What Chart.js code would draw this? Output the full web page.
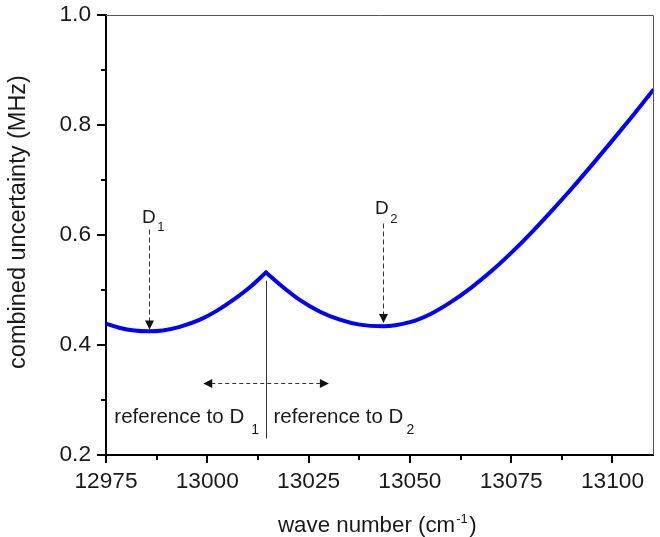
<!DOCTYPE html>
<html>
<head>
<meta charset="utf-8">
<script src="https://cdn.jsdelivr.net/npm/chart.js@4"></script>
<style>
  html, body { margin: 0; padding: 0; background: #fff; }
  canvas { display: block; }
</style>
</head>
<body>
<canvas id="chart" width="660" height="537"></canvas>
<script>
// Combined uncertainty vs. wave number; the reference switches from D1 to D2 at the crossover.
const waveLeft  = [12975, 12978.5, 12982, 12985.5, 12989, 12993.2, 12998.2, 13002.3, 13006.4, 13010.5, 13014.5];
const uncLeft   = [0.439, 0.431, 0.4265, 0.425, 0.4265, 0.433, 0.446, 0.462, 0.482, 0.505, 0.532];
const waveRight = [13014.5, 13017.9, 13022.8, 13027.7, 13032.7, 13037.6, 13043.3, 13050, 13055, 13060, 13065, 13070, 13075, 13080, 13085, 13090, 13095, 13100, 13105, 13110];
const uncRight  = [0.532, 0.510, 0.482, 0.461, 0.446, 0.437, 0.434, 0.4415, 0.456, 0.4775, 0.5035, 0.5335, 0.5675, 0.6045, 0.644, 0.685, 0.728, 0.772, 0.817, 0.863];

const xTickLabels = [12975, 13000, 13025, 13050, 13075, 13100];
const yTickLabels = [0.2, 0.4, 0.6, 0.8, 1.0];

const waveD1 = 12985.5;     // minimum using D1 as reference
const waveD2 = 13043.3;     // minimum using D2 as reference
const waveCross = 13014.5;  // crossover between the two references

const FONT = '"Liberation Sans", Arial, Helvetica, sans-serif';
const toPoints = (xs, ys) => xs.map((x, i) => ({ x, y: ys[i] }));

function midpoints(arr) {
  const out = [];
  for (let i = 0; i < arr.length - 1; i++) out.push((arr[i] + arr[i + 1]) / 2);
  return out;
}

function arrowHead(ctx, tx, ty, dx, dy) {
  // filled triangle with its tip at (tx, ty), pointing along (dx, dy)
  const len = 9, half = 4.5;
  const bx = tx - dx * len, by = ty - dy * len;
  ctx.beginPath();
  ctx.moveTo(tx, ty);
  ctx.lineTo(bx - dy * half, by + dx * half);
  ctx.lineTo(bx + dy * half, by - dx * half);
  ctx.closePath();
  ctx.fill();
}

function textWithSub(ctx, main, sub, x, y, size, subSize, gap, drop) {
  ctx.textAlign = 'left';
  ctx.textBaseline = 'alphabetic';
  ctx.font = size + 'px ' + FONT;
  ctx.fillText(main, x, y);
  const w = ctx.measureText(main).width;
  ctx.font = subSize + 'px ' + FONT;
  ctx.fillText(sub, x + w + gap, y + drop);
  return w + gap + ctx.measureText(sub).width;
}

function widthWithSub(ctx, main, sub, size, subSize, gap) {
  ctx.font = size + 'px ' + FONT;
  const w = ctx.measureText(main).width;
  ctx.font = subSize + 'px ' + FONT;
  return w + gap + ctx.measureText(sub).width;
}

const decorations = {
  id: 'decorations',
  beforeDraw(chart) {
    const ctx = chart.ctx;
    ctx.save();
    ctx.fillStyle = '#fff';
    ctx.fillRect(0, 0, chart.width, chart.height);
    ctx.restore();
  },
  afterDraw(chart) {
    const ctx = chart.ctx;
    const { left, right, top, bottom } = chart.chartArea;
    const xs = chart.scales.x, ys = chart.scales.y;
    ctx.save();

    // thin frame on top and right
    ctx.strokeStyle = '#555';
    ctx.lineWidth = 1;
    ctx.beginPath();
    ctx.moveTo(left, top + 0.5);
    ctx.lineTo(right + 0.5, top + 0.5);
    ctx.lineTo(right + 0.5, bottom);
    ctx.stroke();

    // outward tick marks, major and minor
    ctx.strokeStyle = '#000';
    ctx.lineWidth = 2;
    ctx.beginPath();
    xTickLabels.forEach(v => { const p = Math.round(xs.getPixelForValue(v)); ctx.moveTo(p, bottom); ctx.lineTo(p, bottom + 8); });
    midpoints(xTickLabels).concat([xTickLabels[xTickLabels.length - 1] + 12.5]).forEach(v => {
      if (v > xs.max) return;
      const p = Math.round(xs.getPixelForValue(v)); ctx.moveTo(p, bottom); ctx.lineTo(p, bottom + 5);
    });
    yTickLabels.forEach(v => { const p = Math.round(ys.getPixelForValue(v)); ctx.moveTo(left, p); ctx.lineTo(left - 9, p); });
    midpoints(yTickLabels).forEach(v => { const p = Math.round(ys.getPixelForValue(v)); ctx.moveTo(left, p); ctx.lineTo(left - 5, p); });
    ctx.stroke();

    // annotation arrows
    ctx.strokeStyle = '#333';
    ctx.fillStyle = '#111';
    ctx.lineWidth = 1;

    const d1x = Math.round(xs.getPixelForValue(waveD1)) + 0.5;
    const d2x = Math.round(xs.getPixelForValue(waveD2)) + 0.5;
    const d1Top = ys.getPixelForValue(0.61), d1Tip = ys.getPixelForValue(0.428);
    const d2Top = ys.getPixelForValue(0.621), d2Tip = ys.getPixelForValue(0.440);
    ctx.setLineDash([5, 3]);
    ctx.beginPath();
    ctx.moveTo(d1x, d1Top); ctx.lineTo(d1x, d1Tip - 8);
    ctx.moveTo(d2x, d2Top); ctx.lineTo(d2x, d2Tip - 8);
    ctx.stroke();
    const hy = Math.round(ys.getPixelForValue(0.331)) + 0.5;
    const hl = xs.getPixelForValue(12999), hr = xs.getPixelForValue(13030);
    ctx.setLineDash([4, 3]);
    ctx.beginPath();
    ctx.moveTo(hl + 8, hy); ctx.lineTo(hr - 8, hy);
    ctx.stroke();
    ctx.setLineDash([]);
    arrowHead(ctx, d1x, d1Tip, 0, 1);
    arrowHead(ctx, d2x, d2Tip, 0, 1);
    arrowHead(ctx, hl, hy, -1, 0);
    arrowHead(ctx, hr, hy, 1, 0);

    // crossover line
    const cx = Math.round(xs.getPixelForValue(waveCross)) + 0.5;
    ctx.beginPath();
    ctx.moveTo(cx, ys.getPixelForValue(0.517));
    ctx.lineTo(cx, ys.getPixelForValue(0.23));
    ctx.stroke();

    // labels
    ctx.fillStyle = '#1a1a1a';
    textWithSub(ctx, 'D', '1', d1x - 7.5, ys.getPixelForValue(0.621), 19, 13, 1.5, 8);
    textWithSub(ctx, 'D', '2', d2x - 8.5, ys.getPixelForValue(0.638), 19, 13, 1.5, 8.5);
    const refY = ys.getPixelForValue(0.258);
    const leftW = widthWithSub(ctx, 'reference to D', '1', 20.5, 14, 7);
    textWithSub(ctx, 'reference to D', '1', cx - 7.5 - leftW, refY, 20.5, 14, 7, 11);
    textWithSub(ctx, 'reference to D', '2', cx + 7, refY, 20.5, 14, 3, 11);

    // axis titles
    let tx = 278;
    ctx.textAlign = 'left';
    ctx.textBaseline = 'alphabetic';
    ctx.font = '22.3px ' + FONT;
    ctx.fillText('wave number (cm', tx, 531.5);
    tx += ctx.measureText('wave number (cm').width + 1;
    ctx.font = '13px ' + FONT;
    ctx.fillText('-1', tx, 523);
    tx += ctx.measureText('-1').width + 1.5;
    ctx.font = '22.3px ' + FONT;
    ctx.fillText(')', tx, 531.5);

    ctx.translate(24.5, 222);
    ctx.rotate(-Math.PI / 2);
    ctx.textAlign = 'center';
    ctx.font = '23.5px ' + FONT;
    ctx.fillText('combined uncertainty (MHz)', 0, 0);
    ctx.restore();
  }
};

const lineStyle = {
  borderColor: '#0000ff',
  borderWidth: 4,
  pointRadius: 0,
  fill: false,
  showLine: true,
  cubicInterpolationMode: 'monotone',
  borderCapStyle: 'round',
  borderJoinStyle: 'round'
};

new Chart(document.getElementById('chart'), {
  type: 'scatter',
  data: {
    datasets: [
      Object.assign({ label: 'reference to D1', data: toPoints(waveLeft, uncLeft) }, lineStyle),
      Object.assign({ label: 'reference to D2', data: toPoints(waveRight, uncRight) }, lineStyle)
    ]
  },
  options: {
    responsive: false,
    animation: false,
    devicePixelRatio: 1,
    layout: { padding: { top: 15, right: 7, left: 0, bottom: 0 } },
    plugins: { legend: { display: false }, tooltip: { enabled: false } },
    scales: {
      x: {
        type: 'linear',
        min: 12975,
        max: 13110,
        afterBuildTicks: s => { s.ticks = xTickLabels.map(v => ({ value: v })); },
        afterFit: s => { s.height = 82; s.paddingLeft = 0; s.paddingRight = 0; },
        grid: { display: false },
        border: { display: true, color: '#000', width: 2 },
        ticks: {
          autoSkip: false, maxRotation: 0, padding: 5,
          color: '#1a1a1a',
          font: { family: FONT, size: 22.7 },
          callback: v => String(v)
        }
      },
      y: {
        type: 'linear',
        min: 0.2,
        max: 1.0,
        afterBuildTicks: s => { s.ticks = yTickLabels.map(v => ({ value: v })); },
        afterFit: s => { s.width = 106; s.paddingTop = 0; s.paddingBottom = 0; },
        grid: { display: false },
        border: { display: true, color: '#000', width: 2 },
        ticks: {
          padding: 7,
          color: '#1a1a1a',
          font: { family: FONT, size: 22.7 },
          callback: v => v.toFixed(1)
        }
      }
    }
  },
  plugins: [decorations]
});
</script>
</body>
</html>
